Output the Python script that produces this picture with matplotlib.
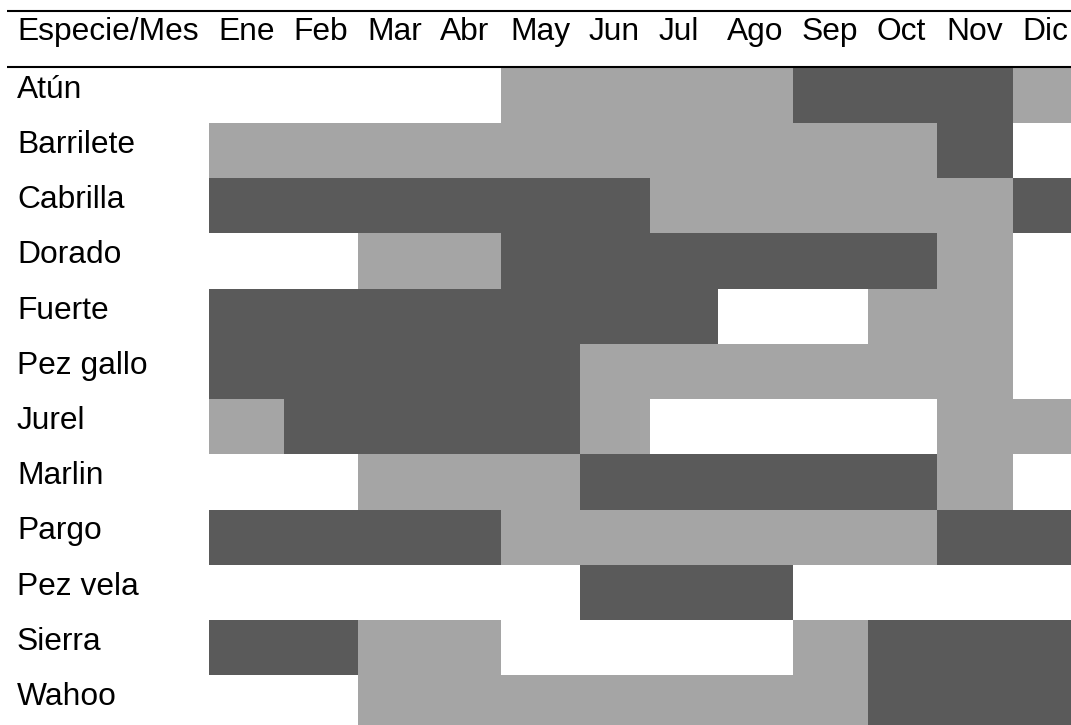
import numpy as np
import matplotlib
matplotlib.use("Agg")
import matplotlib.pyplot as plt
from matplotlib.colors import ListedColormap

# ---- data ----
header_label = "Especie/Mes"
months = ["Ene", "Feb", "Mar", "Abr", "May", "Jun", "Jul", "Ago", "Sep", "Oct", "Nov", "Dic"]
species = ["Atún", "Barrilete", "Cabrilla", "Dorado", "Fuerte", "Pez gallo",
           "Jurel", "Marlin", "Pargo", "Pez vela", "Sierra", "Wahoo"]
# 0 = no season, 1 = regular season, 2 = peak season
atun      = [0, 0, 0, 0, 1, 1, 1, 1, 2, 2, 2, 1]
barrilete = [1, 1, 1, 1, 1, 1, 1, 1, 1, 1, 2, 0]
cabrilla  = [2, 2, 2, 2, 2, 2, 1, 1, 1, 1, 1, 2]
dorado    = [0, 0, 1, 1, 2, 2, 2, 2, 2, 2, 1, 0]
fuerte    = [2, 2, 2, 2, 2, 2, 2, 0, 0, 1, 1, 0]
pez_gallo = [2, 2, 2, 2, 2, 1, 1, 1, 1, 1, 1, 0]
jurel     = [1, 2, 2, 2, 2, 1, 0, 0, 0, 0, 1, 1]
marlin    = [0, 0, 1, 1, 1, 2, 2, 2, 2, 2, 1, 0]
pargo     = [2, 2, 2, 2, 1, 1, 1, 1, 1, 1, 2, 2]
pez_vela  = [0, 0, 0, 0, 0, 2, 2, 2, 0, 0, 0, 0]
sierra    = [2, 2, 1, 1, 0, 0, 0, 0, 1, 2, 2, 2]
wahoo     = [0, 0, 1, 1, 1, 1, 1, 1, 1, 2, 2, 2]

season = np.array([atun, barrilete, cabrilla, dorado, fuerte, pez_gallo,
                   jurel, marlin, pargo, pez_vela, sierra, wahoo])

# ---- layout (pixel units) ----
W, H = 1071, 725
table_left = 7
first_col_right = 209
col_widths = [75, 74, 73, 70, 79, 70, 68, 75, 75, 69, 76, 66]
top_rule = 11
header_bottom = 67.5
row_h = 55.25
text_pad = 9
baseline_off = 30
font = "Liberation Sans"
fsize = 22.9

cmap = ListedColormap(["#FFFFFF", "#A5A5A5", "#5A5A5A"])

fig = plt.figure(figsize=(W / 100, H / 100), dpi=100)
ax = fig.add_axes([0, 0, 1, 1])
ax.set_xlim(0, W)
ax.set_ylim(H, 0)
ax.axis("off")

x_edges = first_col_right + np.concatenate([[0], np.cumsum(col_widths)])
y_edges = header_bottom + row_h * np.arange(len(species) + 1)

ax.pcolormesh(x_edges, y_edges, season, cmap=cmap, vmin=-0.5, vmax=2.5,
              shading="flat", antialiased=False, edgecolors="none")

# rules
ax.plot([table_left, W], [top_rule, top_rule], color="black", lw=1.5,
        solid_capstyle="butt")
ax.plot([table_left, W], [header_bottom - 0.5, header_bottom - 0.5], color="black",
        lw=1.5, solid_capstyle="butt")

# header text
ax.text(table_left + 10, top_rule + 29, header_label, fontsize=fsize,
        family=font, ha="left", va="baseline", color="black")
for i, m in enumerate(months):
    ax.text(x_edges[i] + text_pad, top_rule + 29, m, fontsize=fsize, family=font,
            ha="left", va="baseline", color="black")

# row labels
for j, s in enumerate(species):
    ax.text(table_left + 10, y_edges[j] + baseline_off, s, fontsize=fsize,
            family=font, ha="left", va="baseline", color="black")

fig.savefig("out.png", dpi=100)
